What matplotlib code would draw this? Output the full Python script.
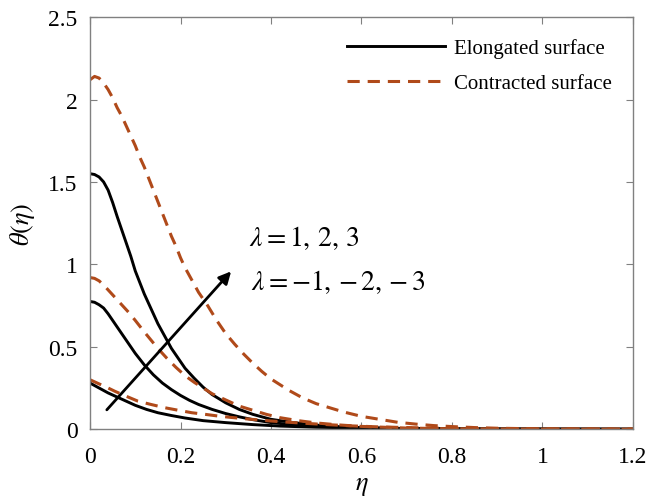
import matplotlib
matplotlib.use('Agg')
import matplotlib.pyplot as plt

plt.rcParams['font.family'] = ['Liberation Serif', 'DejaVu Serif']
plt.rcParams['mathtext.fontset'] = 'stix'

# values
x_el1 = [0, 0.01, 0.02, 0.03, 0.04, 0.05, 0.06, 0.07, 0.08, 0.09, 0.10, 0.11, 0.12, 0.13, 0.14, 0.15,
         0.16, 0.17, 0.18, 0.19, 0.20, 0.21, 0.23, 0.25, 0.27, 0.30, 0.33, 0.36, 0.40, 0.45, 0.5, 0.55,
         0.6, 0.7, 0.8, 1.2]
y_el1 = [1.55, 1.545, 1.53, 1.50, 1.45, 1.375, 1.29, 1.21, 1.13, 1.05, 0.96, 0.89, 0.82, 0.76, 0.70, 0.64,
         0.59, 0.54, 0.49, 0.45, 0.41, 0.37, 0.31, 0.255, 0.21, 0.16, 0.12, 0.09, 0.06, 0.04, 0.025, 0.015,
         0.009, 0.004, 0.001, 0]

x_el2 = [0, 0.01, 0.02, 0.03, 0.04, 0.05, 0.06, 0.07, 0.08, 0.09, 0.10, 0.11, 0.12, 0.13, 0.14, 0.15,
         0.16, 0.18, 0.20, 0.22, 0.24, 0.27, 0.30, 0.33, 0.36, 0.40, 0.45, 0.5, 0.6, 0.7, 0.8, 1.0, 1.2]
y_el2 = [0.775, 0.77, 0.755, 0.735, 0.70, 0.66, 0.62, 0.58, 0.54, 0.50, 0.46, 0.425, 0.39, 0.36, 0.33, 0.305,
         0.28, 0.24, 0.205, 0.175, 0.15, 0.12, 0.095, 0.075, 0.058, 0.04, 0.027, 0.018, 0.008, 0.004, 0.002,
         0.0005, 0]

x_el3 = [0, 0.02, 0.04, 0.06, 0.08, 0.10, 0.125, 0.15, 0.18, 0.21, 0.25, 0.30, 0.36, 0.42, 0.5, 0.6, 0.7,
         0.9, 1.2]
y_el3 = [0.28, 0.25, 0.22, 0.195, 0.17, 0.145, 0.12, 0.10, 0.083, 0.068, 0.052, 0.04, 0.028, 0.019, 0.012,
         0.007, 0.003, 0.001, 0]

x_co1 = [0, 0.01, 0.02, 0.03, 0.04, 0.05, 0.06, 0.07, 0.08, 0.09, 0.10, 0.11, 0.12, 0.13, 0.14, 0.15,
         0.16, 0.17, 0.18, 0.19, 0.20, 0.21, 0.22, 0.23, 0.24, 0.26, 0.28, 0.30, 0.32, 0.34, 0.36, 0.38,
         0.40, 0.42, 0.44, 0.47, 0.50, 0.53, 0.56, 0.60, 0.64, 0.68, 0.72, 0.76, 0.80, 0.85, 0.9, 1.0, 1.2]
y_co1 = [2.12, 2.14, 2.13, 2.10, 2.06, 2.01, 1.95, 1.90, 1.84, 1.78, 1.72, 1.65, 1.59, 1.52, 1.45, 1.38,
         1.31, 1.24, 1.17, 1.11, 1.04, 0.98, 0.93, 0.88, 0.83, 0.75, 0.66, 0.58, 0.515, 0.455, 0.40, 0.35,
         0.305, 0.27, 0.235, 0.19, 0.155, 0.13, 0.105, 0.078, 0.06, 0.042, 0.031, 0.022, 0.016, 0.01, 0.006,
         0.002, 0]

x_co2 = [0, 0.01, 0.02, 0.03, 0.04, 0.055, 0.07, 0.085, 0.10, 0.12, 0.135, 0.15, 0.17, 0.19, 0.21, 0.23,
         0.25, 0.27, 0.29, 0.31, 0.33, 0.36, 0.39, 0.42, 0.46, 0.5, 0.55, 0.6, 0.7, 0.8, 1.0, 1.2]
y_co2 = [0.92, 0.915, 0.90, 0.875, 0.845, 0.80, 0.755, 0.71, 0.66, 0.59, 0.54, 0.49, 0.43, 0.375, 0.325,
         0.285, 0.25, 0.215, 0.19, 0.165, 0.14, 0.115, 0.09, 0.07, 0.052, 0.038, 0.026, 0.017, 0.007, 0.003,
         0.001, 0]

x_co3 = [0, 0.02, 0.04, 0.055, 0.08, 0.106, 0.135, 0.166, 0.195, 0.225, 0.255, 0.283, 0.31, 0.34, 0.37,
         0.40, 0.44, 0.48, 0.53, 0.58, 0.64, 0.7, 0.78, 0.85, 1.0, 1.2]
y_co3 = [0.30, 0.275, 0.25, 0.23, 0.20, 0.17, 0.15, 0.13, 0.115, 0.10, 0.09, 0.08, 0.072, 0.064, 0.057,
         0.05, 0.042, 0.035, 0.027, 0.02, 0.014, 0.01, 0.006, 0.004, 0.001, 0]

xticks = [0, 0.2, 0.4, 0.6, 0.8, 1, 1.2]
yticks = [0, 0.5, 1, 1.5, 2, 2.5]

black = 'black'
brown = '#B04A1A'
dash = (0, (4, 2.6))

fig = plt.figure(figsize=(6.62, 5.02), dpi=100)
ax = fig.add_axes([0.136, 0.143, 0.820, 0.821])

ax.plot(x_el1, y_el1, color=black, lw=2.1, label='Elongated surface')
ax.plot(x_el2, y_el2, color=black, lw=2.1)
ax.plot(x_el3, y_el3, color=black, lw=2.1)
ax.plot(x_co1, y_co1, color=brown, lw=2.2, ls=dash, label='Contracted surface')
ax.plot(x_co2, y_co2, color=brown, lw=2.2, ls=dash)
ax.plot(x_co3, y_co3, color=brown, lw=2.2, ls=dash)

ax.annotate('', xy=(0.316, 0.97), xytext=(0.033, 0.105),
            arrowprops=dict(arrowstyle='-|>', color='black', lw=2.0, mutation_scale=18))
ax.text(0.352, 1.165, r'$\lambda = 1,\,2,\,3$', fontsize=20, va='center', ha='left')
ax.text(0.356, 0.90, r'$\lambda = -1,\,{-}\,2,\,{-}\,3$', fontsize=20, va='center', ha='left')

ax.set_xlim(0, 1.2)
ax.set_ylim(0, 2.5)
ax.set_xticks(xticks)
ax.set_xticklabels(['0', '0.2', '0.4', '0.6', '0.8', '1', '1.2'])
ax.set_yticks(yticks)
ax.set_yticklabels(['0', '0.5', '1', '1.5', '2', '2.5'])
ax.tick_params(direction='in', top=True, right=True, labelsize=17, length=5,
               color='#808080')
ax.tick_params(axis='x', pad=12)
ax.tick_params(axis='y', pad=9)
for s in ax.spines.values():
    s.set_color('#808080')
    s.set_linewidth(1.0)

ax.set_xlabel(r'$\eta$', fontsize=19, labelpad=6)
ax.set_ylabel(r'$\theta(\eta)$', fontsize=19, labelpad=8)

ax.legend(loc='upper right', frameon=False, fontsize=15, handlelength=4.7,
          handletextpad=0.43, labelspacing=0.75, borderaxespad=0.62)

fig.savefig('out.png', dpi=100)
